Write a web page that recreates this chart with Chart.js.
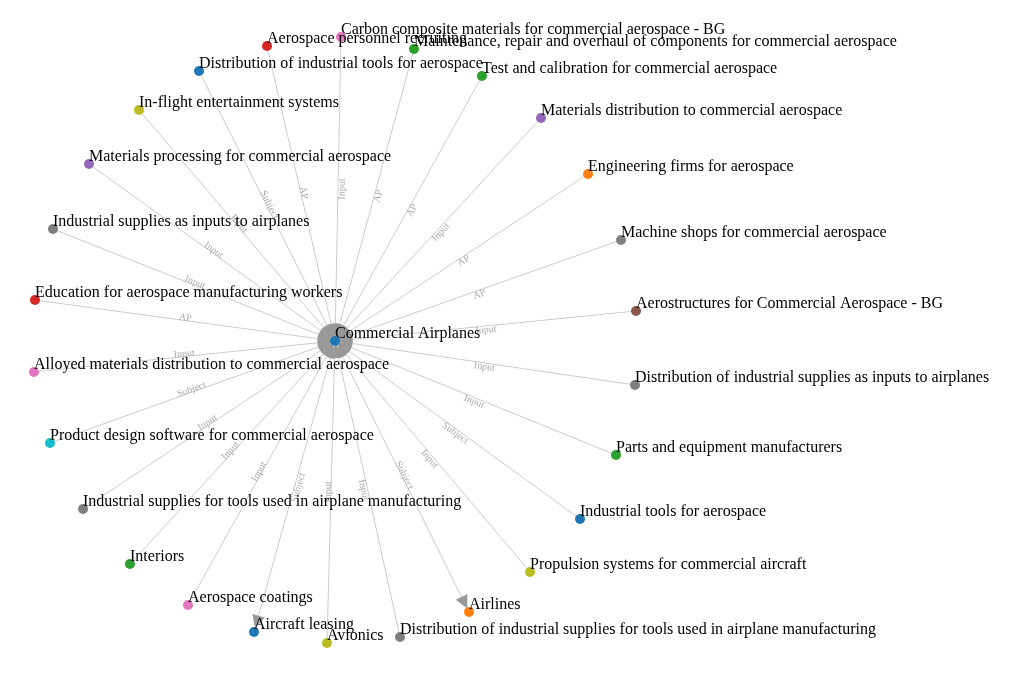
<!DOCTYPE html>
<html>
<head>
<meta charset="utf-8">
<script src="https://cdn.jsdelivr.net/npm/chart.js@4.4.1/dist/chart.umd.min.js"></script>
<style>
  body { margin: 0; background: #fff; }
  #wrap { width: 1020px; height: 686px; position: relative; }
</style>
</head>
<body>
<div id="wrap"><canvas id="graph"></canvas></div>
<script>
// nodes of the network (positions are in graph units, 0..1020 x 0..686)
const nodeNames = [
  "Commercial Airplanes",
  "Aerospace personnel recruiting",
  "Carbon composite materials for commercial aerospace - BG",
  "Maintenance, repair and overhaul of components for commercial aerospace",
  "Distribution of industrial tools for aerospace",
  "Test and calibration for commercial aerospace",
  "In-flight entertainment systems",
  "Materials processing for commercial aerospace",
  "Materials distribution to commercial aerospace",
  "Engineering firms for aerospace",
  "Industrial supplies as inputs to airplanes",
  "Machine shops for commercial aerospace",
  "Education for aerospace manufacturing workers",
  "Aerostructures for Commercial Aerospace - BG",
  "Alloyed materials distribution to commercial aerospace",
  "Distribution of industrial supplies as inputs to airplanes",
  "Product design software for commercial aerospace",
  "Parts and equipment manufacturers",
  "Industrial supplies for tools used in airplane manufacturing",
  "Industrial tools for aerospace",
  "Interiors",
  "Aerospace coatings",
  "Propulsion systems for commercial aircraft",
  "Aircraft leasing",
  "Avionics",
  "Airlines",
  "Distribution of industrial supplies for tools used in airplane manufacturing"
];
const nodeX = [335, 267, 341, 414, 199, 482, 139, 89, 541, 588, 53, 621, 35, 636, 34, 635, 50, 616, 83, 580, 130, 188, 530, 254, 327, 469, 400];
const nodeY = [341, 46, 37, 49, 71, 76, 110, 164, 118, 174, 229, 240, 300, 311, 372, 385, 443, 455, 509, 519, 564, 605, 572, 632, 643, 612, 637];
const nodeColors = [
  "#1f77b4", "#d62728", "#e377c2", "#2ca02c", "#1f77b4", "#2ca02c", "#bcbd22",
  "#9467bd", "#9467bd", "#ff7f0e", "#7f7f7f", "#7f7f7f", "#d62728", "#8c564b",
  "#e377c2", "#7f7f7f", "#17becf", "#2ca02c", "#7f7f7f", "#1f77b4", "#2ca02c",
  "#e377c2", "#bcbd22", "#1f77b4", "#bcbd22", "#ff7f0e", "#7f7f7f"
];

// links: source index -> target index, with relation label
const edgeSource = [1, 2, 3, 4, 5, 6, 7, 8, 9, 10, 11, 12, 13, 14, 15, 16, 17, 18, 19, 20, 21, 22, 0, 24, 0, 26];
const edgeTarget = [0, 0, 0, 0, 0, 0, 0, 0, 0, 0, 0, 0, 0, 0, 0, 0, 0, 0, 0, 0, 0, 0, 23, 0, 25, 0];
const edgeLabels = ["AP", "Input", "AP", "Subject", "AP", "Input", "Input", "Input", "AP", "Input",
  "AP", "AP", "Input", "Input", "Input", "Subject", "Input", "Input", "Subject", "Input",
  "Input", "Input", "Subject", "Input", "Subject", "Input"];

const pt = i => ({ x: nodeX[i], y: nodeY[i] });

const linkSets = edgeSource.map((s, k) => ({
  data: [pt(s), pt(edgeTarget[k])],
  showLine: true,
  borderColor: "#cccccc",
  borderWidth: 1,
  pointRadius: 0,
  order: 2
}));

const nodeSet = {
  data: nodeNames.map((n, i) => pt(i)),
  pointRadius: 5,
  pointBackgroundColor: nodeColors,
  pointBorderWidth: 0,
  pointBorderColor: "rgba(0,0,0,0)",
  order: 0
};

const graphPlugin = {
  id: "graphDecor",
  beforeDatasetDraw(chart, args) {
    if (args.index !== 0) return;
    const ctx = chart.ctx, xs = chart.scales.x, ys = chart.scales.y;
    ctx.save();
    // arrow heads at the target end of every link
    edgeSource.forEach((s, k) => {
      const t = edgeTarget[k];
      const sx = xs.getPixelForValue(nodeX[s]), sy = ys.getPixelForValue(nodeY[s]);
      const tx = xs.getPixelForValue(nodeX[t]), ty = ys.getPixelForValue(nodeY[t]);
      const a = Math.atan2(ty - sy, tx - sx);
      ctx.save();
      ctx.translate(tx, ty);
      ctx.rotate(a);
      ctx.fillStyle = "#999";
      ctx.beginPath();
      ctx.moveTo(-3.9, 0);
      ctx.lineTo(-16.9, -6.5);
      ctx.lineTo(-16.9, 6.5);
      ctx.closePath();
      ctx.fill();
      ctx.restore();
    });
    // relation labels at the middle of each link
    ctx.font = '10px "Liberation Serif", serif';
    ctx.fillStyle = "#aaa";
    ctx.textAlign = "center";
    ctx.textBaseline = "alphabetic";
    edgeSource.forEach((s, k) => {
      const t = edgeTarget[k];
      const sx = xs.getPixelForValue(nodeX[s]), sy = ys.getPixelForValue(nodeY[s]);
      const tx = xs.getPixelForValue(nodeX[t]), ty = ys.getPixelForValue(nodeY[t]);
      const a = Math.atan2(ty - sy, tx - sx);
      ctx.save();
      ctx.translate((sx + tx) / 2, (sy + ty) / 2);
      if (tx < sx) {
        ctx.rotate(a + Math.PI);
        ctx.fillText(edgeLabels[k], 0, 6.7);
      } else {
        ctx.rotate(a);
        ctx.fillText(edgeLabels[k], 0, 0);
      }
      ctx.restore();
    });
    ctx.restore();
  },
  afterDatasetsDraw(chart) {
    const ctx = chart.ctx, xs = chart.scales.x, ys = chart.scales.y;
    ctx.save();
    ctx.font = '16px "Liberation Serif", serif';
    ctx.fillStyle = "#000";
    ctx.textAlign = "left";
    ctx.textBaseline = "alphabetic";
    nodeNames.forEach((n, i) => {
      ctx.fillText(n, xs.getPixelForValue(nodeX[i]), ys.getPixelForValue(nodeY[i]) - 3);
    });
    ctx.restore();
  }
};

new Chart(document.getElementById("graph"), {
  type: "scatter",
  data: { datasets: [nodeSet].concat(linkSets) },
  options: {
    responsive: true,
    maintainAspectRatio: false,
    animation: false,
    events: [],
    layout: { padding: 0, autoPadding: false },
    plugins: { legend: { display: false }, tooltip: { enabled: false } },
    scales: {
      x: { type: "linear", min: 0, max: 1020, display: false },
      y: { type: "linear", min: 0, max: 686, reverse: true, display: false }
    }
  },
  plugins: [graphPlugin]
});
</script>
</body>
</html>
